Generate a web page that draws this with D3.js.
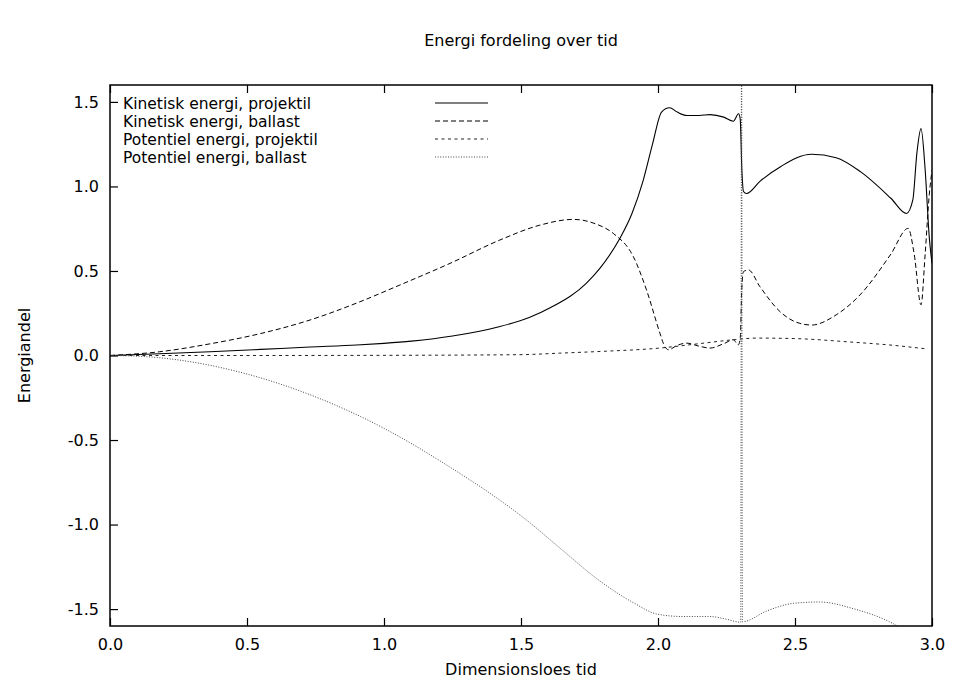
<!DOCTYPE html>
<html>
<head>
<meta charset="utf-8">
<script src="https://cdn.jsdelivr.net/npm/d3@7"></script>
<style>
  body { margin: 0; background: #fff; }
  svg { font-family: "DejaVu Sans", Arial, sans-serif; }
  .tick text { font-size: 16px; fill: #000; font-family: "DejaVu Sans", Arial, sans-serif; }
  .tick line { stroke: #000; stroke-width: 1.2; }
</style>
</head>
<body>
<script>
// data: time values and energy shares per series
const kinProjT = [0, 0.18, 0.365, 0.55, 0.73, 0.9, 1.0, 1.1, 1.25, 1.42, 1.53, 1.61, 1.74, 1.79, 1.86, 1.905, 1.945, 1.98, 2.013, 2.042, 2.07, 2.105, 2.15, 2.19, 2.24, 2.275, 2.294, 2.300, 2.306, 2.312, 2.323, 2.372, 2.45, 2.56, 2.65, 2.74, 2.85, 2.907, 2.93, 2.945, 2.96, 2.975, 2.99, 3.0];
const kinProjE = [0, 0.01, 0.022, 0.036, 0.05, 0.062, 0.072, 0.085, 0.115, 0.17, 0.225, 0.285, 0.43, 0.52, 0.69, 0.84, 1.03, 1.25, 1.44, 1.465, 1.44, 1.42, 1.42, 1.425, 1.41, 1.386, 1.43, 1.40, 1.10, 0.97, 0.958, 1.03, 1.12, 1.19, 1.17, 1.086, 0.93, 0.84, 0.92, 1.2, 1.342, 1.1, 0.7, 0.545];

const kinBalT = [0, 0.18, 0.365, 0.55, 0.73, 0.9, 1.058, 1.241, 1.423, 1.569, 1.691, 1.77, 1.837, 1.91, 1.958, 2.007, 2.02, 2.038, 2.07, 2.105, 2.15, 2.19, 2.24, 2.275, 2.293, 2.300, 2.306, 2.312, 2.33, 2.372, 2.445, 2.5, 2.56, 2.65, 2.737, 2.85, 2.913, 2.935, 2.96, 2.975, 2.99, 3.0];
const kinBalE = [0, 0.022, 0.069, 0.13, 0.21, 0.31, 0.417, 0.545, 0.683, 0.771, 0.805, 0.78, 0.722, 0.585, 0.388, 0.132, 0.07, 0.034, 0.06, 0.073, 0.055, 0.044, 0.07, 0.093, 0.063, 0.1, 0.4, 0.496, 0.506, 0.407, 0.26, 0.2, 0.18, 0.24, 0.358, 0.6, 0.752, 0.6, 0.30, 0.6, 0.95, 1.096];

const potProjT = [0, 0.5, 1.0, 1.5, 1.642, 1.79, 2.007, 2.15, 2.275, 2.36, 2.5, 2.7, 2.86, 2.985];
const potProjE = [0, 0, 0.001, 0.005, 0.014, 0.024, 0.044, 0.07, 0.093, 0.103, 0.1, 0.08, 0.06, 0.038];

const potBalT = [0, 0.1, 0.243, 0.487, 0.73, 0.998, 1.216, 1.533, 1.65, 1.788, 1.91, 2.0, 2.093, 2.19, 2.25, 2.302, 2.305, 2.308, 2.397, 2.494, 2.59, 2.712, 2.858, 2.95, 3.0];
const potBalE = [0, -0.004, -0.025, -0.104, -0.232, -0.429, -0.635, -0.99, -1.15, -1.334, -1.462, -1.531, -1.544, -1.544, -1.56, -1.578, 2.0, -1.575, -1.511, -1.466, -1.458, -1.497, -1.586, -1.68, -1.72];

const seriesNames = ['Kinetisk energi, projektil', 'Kinetisk energi, ballast', 'Potentiel energi, projektil', 'Potentiel energi, ballast'];
const xTicks = [0, 0.5, 1.0, 1.5, 2.0, 2.5, 3.0];
const yTicks = [-1.5, -1.0, -0.5, 0.0, 0.5, 1.0, 1.5];

const W = 962, H = 681;
const margin = {top: 85, right: 30, bottom: 55, left: 110};
const width = W - margin.left - margin.right;   // 822
const height = H - margin.top - margin.bottom;  // 541

const x = d3.scaleLinear().domain([0, 3]).range([0, width]);
const y = d3.scaleLinear().domain([-1.6, 1.6]).range([height, 0]);

// gnuplot style labels: plain hyphen as minus
const fmt = d => d.toFixed(1);

const svg = d3.select('body').append('svg')
  .attr('width', W)
  .attr('height', H);

const g = svg.append('g')
  .attr('transform', 'translate(' + margin.left + ',' + margin.top + ')');

g.append('clipPath').attr('id', 'clip')
  .append('rect').attr('width', width).attr('height', height);

// axes, ticks pointing inward like gnuplot
g.append('g')
  .attr('transform', 'translate(0,' + height + ')')
  .call(d3.axisBottom(x).tickValues(xTicks).tickFormat(fmt).tickSize(-8).tickPadding(13))
  .call(a => a.select('.domain').remove());

g.append('g')
  .call(d3.axisTop(x).tickValues(xTicks).tickFormat('').tickSize(-8))
  .call(a => a.select('.domain').remove());

g.append('g')
  .call(d3.axisLeft(y).tickValues(yTicks).tickFormat(fmt).tickSize(-8).tickPadding(11))
  .call(a => a.select('.domain').remove());

const styles = [
  {dash: null, color: '#000', w: 1.1},
  {dash: '5,3', color: '#000', w: 1},
  {dash: '3,3.5', color: '#222', w: 1},
  {dash: '1,1.6', color: '#444', w: 1}
];

const series = [
  d3.zip(kinProjT, kinProjE),
  d3.zip(kinBalT, kinBalE),
  d3.zip(potProjT, potProjE),
  d3.zip(potBalT, potBalE)
];

const line = d3.line()
  .x(d => x(d[0]))
  .y(d => y(d[1]))
  .curve(d3.curveMonotoneX);

const plot = g.append('g').attr('clip-path', 'url(#clip)');

series.forEach(function(s, i) {
  plot.append('path')
    .datum(s)
    .attr('fill', 'none')
    .attr('stroke', styles[i].color)
    .attr('stroke-width', styles[i].w)
    .attr('stroke-dasharray', styles[i].dash)
    .attr('d', line);
});

// legend
const legend = g.append('g').attr('transform', 'translate(13,18)');
seriesNames.forEach(function(name, i) {
  legend.append('text')
    .attr('x', 0)
    .attr('y', i * 18)
    .attr('dy', '0.36em')
    .attr('font-size', 15.5)
    .text(name);
  legend.append('line')
    .attr('x1', 312).attr('x2', 365)
    .attr('y1', i * 18).attr('y2', i * 18)
    .attr('stroke', styles[i].color)
    .attr('stroke-width', styles[i].w)
    .attr('stroke-dasharray', styles[i].dash);
});

// frame
g.append('rect')
  .attr('width', width)
  .attr('height', height)
  .attr('fill', 'none')
  .attr('stroke', '#000')
  .attr('stroke-width', 1.5);

// titles
svg.append('text')
  .attr('x', margin.left + width / 2)
  .attr('y', 46)
  .attr('text-anchor', 'middle')
  .attr('font-size', 16)
  .text('Energi fordeling over tid');

svg.append('text')
  .attr('x', margin.left + width / 2)
  .attr('y', 675)
  .attr('text-anchor', 'middle')
  .attr('font-size', 16)
  .text('Dimensionsloes tid');

svg.append('text')
  .attr('transform', 'translate(30,' + (margin.top + height / 2) + ') rotate(-90)')
  .attr('text-anchor', 'middle')
  .attr('font-size', 16)
  .text('Energiandel');
</script>
</body>
</html>
